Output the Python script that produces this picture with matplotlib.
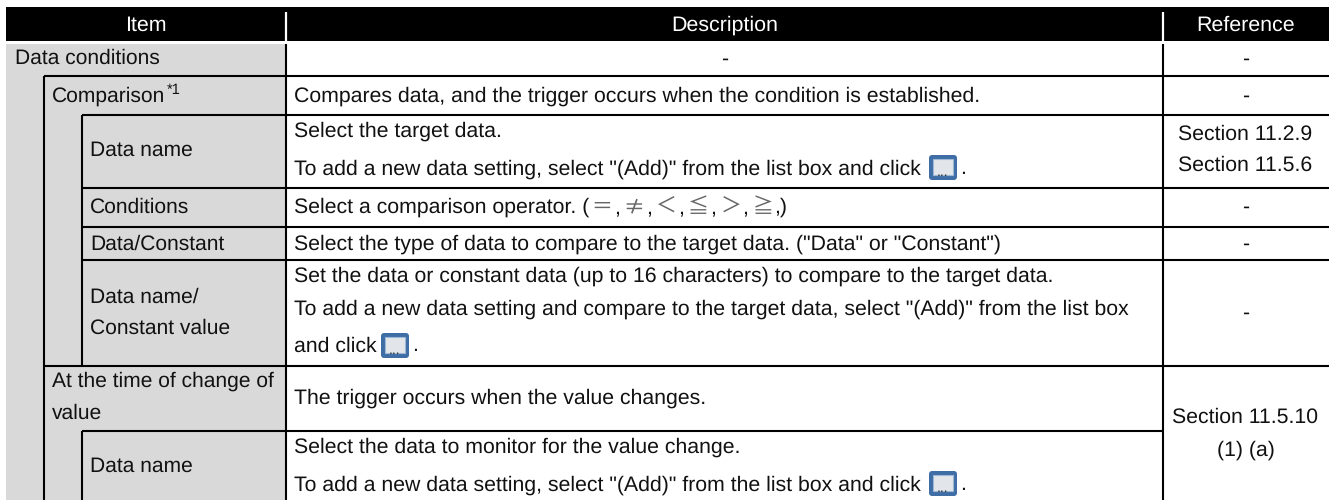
import matplotlib
matplotlib.use('Agg')
import matplotlib.pyplot as plt
from matplotlib.patches import Rectangle, FancyBboxPatch

plt.rcParams['font.family'] = ['Liberation Sans', 'DejaVu Sans', 'Noto Sans CJK JP']
plt.rcParams['text.hinting'] = 'no_hinting'

W, H = 1329, 500
headers = ['Item', 'Description', 'Reference']
header_x = [146, 725, 1246]
item_rows = [
    (15, 58, 'Data conditions'),
    (52, 96, 'Comparison'),
    (90, 150, 'Data name'),
    (90, 207, 'Conditions'),
    (90, 244, 'Data/Constant'),
    (90, 297, 'Data name/'),
    (90, 328, 'Constant value'),
    (52, 381, 'At the time of change of'),
    (52, 413, 'value'),
    (90, 466, 'Data name'),
]
desc_rows = [
    (96, 'Compares data, and the trigger occurs when the condition is established.'),
    (131, 'Select the target data.'),
    (169, 'To add a new data setting, select "(Add)" from the list box and click'),
    (207, 'Select a comparison operator. ('),
    (244, 'Select the type of data to compare to the target data. ("Data" or "Constant")'),
    (276, 'Set the data or constant data (up to 16 characters) to compare to the target data.'),
    (309, 'To add a new data setting and compare to the target data, select "(Add)" from the list box'),
    (346, 'and click'),
    (398, 'The trigger occurs when the value changes.'),
    (447, 'Select the data to monitor for the value change.'),
    (485, 'To add a new data setting, select "(Add)" from the list box and click'),
]
operators = ['＝', '≠', '＜', '≦', '＞', '≧']
ref_rows = [
    (59, '-'), (96, '-'), (134, 'Section 11.2.9'), (165, 'Section 11.5.6'),
    (207, '-'), (244, '-'), (313, '-'),
    (417, 'Section 11.5.10'), (450, '(1) (a)'),
]
desc_dash = (59, '-')
# (y, x start, x end) of the rules across the table
rules = [(76, 44, W), (115, 82, W), (188, 82, W), (227, 82, W), (260, 82, W),
         (366, 44, W), (431, 82, 1163)]
# (x, y start, y end)
vrules = [(44, 76, 500), (82, 115, 366), (82, 431, 500), (286, 44, 500), (1163, 44, 500)]
# icon centres, and the y of the full stop after each
icons = [(943, 167.5, 169), (395, 345.5, 346), (943, 483.5, 485)]

fig = plt.figure(figsize=(W / 100, H / 100), dpi=100)
ax = fig.add_axes([0, 0, 1, 1])
ax.set_xlim(0, W)
ax.set_ylim(H, 0)
ax.axis('off')

ax.add_patch(Rectangle((6, 7), W - 6, 34, fc='black', ec='none'))
ax.add_patch(Rectangle((6, 44), 280, H - 44, fc='#d9d9d9', ec='none'))
ax.plot([286, 286], [12, 41], color='white', lw=1.6, solid_capstyle='butt')
ax.plot([1163, 1163], [12, 41], color='white', lw=1.6, solid_capstyle='butt')

for y, x0, x1 in rules:
    ax.plot([x0, x1], [y, y], color='black', lw=1.5, solid_capstyle='butt')
for x, y0, y1 in vrules:
    ax.plot([x, x], [y0, y1], color='black', lw=1.5, solid_capstyle='butt')

fs = 15.3
fs_item = 15.1
ink = '#111111'
for x, t in zip(header_x, headers):
    ax.text(x, 25, t, color='white', fontsize=15.4, ha='center', va='center')
for x, y, t in item_rows:
    ax.text(x, y, t, color=ink, fontsize=fs_item, ha='left', va='center')
ax.text(167, 90, '*1', color=ink, fontsize=10.5, ha='left', va='center')
for y, t in desc_rows:
    ax.text(294.5, y, t, color=ink, fontsize=fs, ha='left', va='center')
ax.text(725, desc_dash[0], desc_dash[1], color=ink, fontsize=fs, ha='center', va='center')
for y, t in ref_rows:
    ax.text(1245.5, y, t, color=ink, fontsize=fs, ha='center', va='center')

# the comparison operators sit apart from the text, in a thinner face
for i, op in enumerate(operators):
    ax.text(602 + i * 32.2, 207, op, color='#666666', fontsize=15, ha='center', va='center',
            family=['Noto Sans CJK JP', 'DejaVu Sans'])
    tail = ',)' if i == len(operators) - 1 else ','
    ax.text(614 + i * 32, 207.5, tail, color=ink, fontsize=fs, ha='left', va='center')

for x, y, dot_y in icons:
    ax.add_patch(FancyBboxPatch((x - 14, y - 12.5), 28, 25, boxstyle='round,pad=0,rounding_size=3',
                                fc='#3f6ea6', ec='none'))
    ax.add_patch(Rectangle((x - 10, y - 9), 20, 16, fc='#e2e6ea', ec='#9db8d6', lw=0.8))
    ax.text(x, y + 5, '...', color='#333333', fontsize=10, ha='center', va='center')
    ax.text(x + 17, dot_y, '.', color=ink, fontsize=fs, ha='left', va='center')

fig.savefig('out.png', dpi=100)
